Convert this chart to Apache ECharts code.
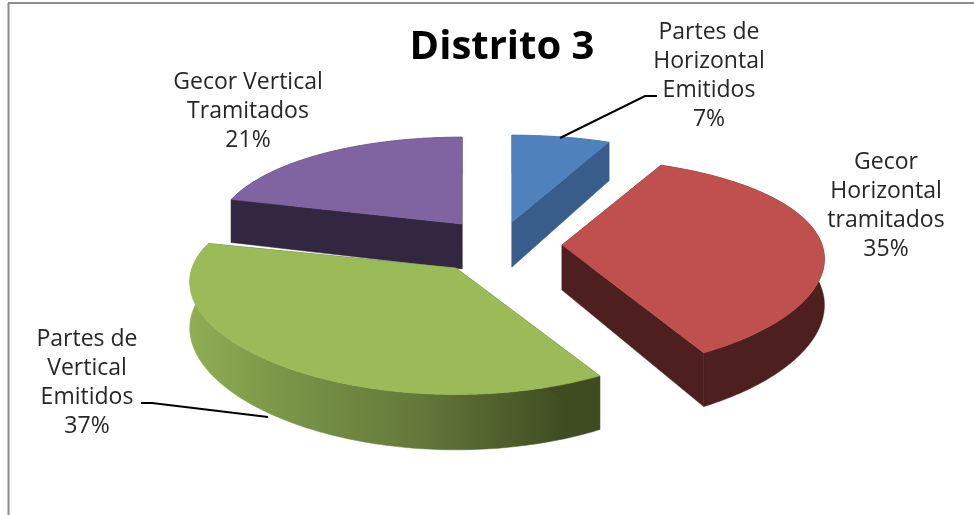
<!DOCTYPE html>
<html>
<head>
<meta charset="utf-8">
<style>
  html, body { margin: 0; padding: 0; background: #fff; }
  #chart { width: 974px; height: 515px; }
</style>
<script src="https://cdn.jsdelivr.net/npm/echarts@6/dist/echarts.min.js"></script>
</head>
<body>
<div id="chart"></div>
<script>
const chartTitle = 'Distrito 3';
const categories = ['Partes de\nHorizontal\nEmitidos', 'Gecor\nHorizontal\ntramitados', 'Partes de\nVertical\nEmitidos', 'Gecor Vertical\nTramitados'];
const percents = [7, 35, 37, 21];

const FONT = '"Open Sans"';
// look of the tilted pie
const polarRadius = 100;
const base = [488, 245];
const rx = 255, ry = 103, perspX = 0.132, perspY = 0.186, depth = 45;
const explode = [[24, -23], [74, 0], [-32, 23], [-26, -21]];
const widen = [1, 1.02, 1.035, 0.965];
const topColors = ['#4f81bd', '#c0504d', '#9bbb59', '#8064a2'];
const wallColors = ['#385d8a', '#4d1f1e', '#3f4b21', '#332641'];
const labelAt = [[709, 18], [886, 148], [87, 325], [248, 68]];
const leaders = [
  [[560, 138], [645, 96], [657, 96]],
  null,
  [[268, 417], [152, 403], [141, 403]],
  null
];

const starts = [];
percents.reduce(function (sum, v, i) { starts[i] = sum; return sum + v; }, 0);

function renderSlice(params, api) {
  const i = params.dataIndex;
  const from = api.value(1);
  const to = from + api.value(2);
  const origin = api.coord([0, 0]);
  const off = explode[i];

  // angle comes from the polar scale, then it gets the tilt + perspective
  function project(pct, r, down) {
    const p = api.coord([r, pct]);
    const nx = (p[0] - origin[0]) / polarRadius;
    const ny = (p[1] - origin[1]) / polarRadius;
    return [
      base[0] + off[0] + widen[i] * rx * nx / (1 - perspX * ny),
      base[1] + off[1] + (ry * ny + down) / (1 - perspY * ny)
    ];
  }
  function arc(a, b, down) {
    const out = [];
    const steps = Math.ceil(Math.abs(b - a) * 4);
    for (let k = 0; k <= steps; k++) {
      out.push(project(a + (b - a) * k / steps, 1, down));
    }
    return out;
  }
  function quad(pct) {
    return [project(pct, 0, 0), project(pct, 1, 0), project(pct, 1, depth), project(pct, 0, depth)];
  }
  function poly(points, fill, z2) {
    return { type: 'polygon', shape: { points: points }, style: { fill: fill, stroke: fill, lineWidth: 0.5 }, z2: z2 };
  }

  const mid = (from + to) / 2 / 100 * Math.PI * 2;
  const order = 20 - Math.round(Math.cos(mid) * 10);
  const topArc = arc(from, to, 0);
  let wallFill = wallColors[i];
  if (i === 2) {
    wallFill = new echarts.graphic.LinearGradient(0, 0, 1, 0, [
      { offset: 0, color: '#8fae53' },
      { offset: 0.22, color: '#7b9648' },
      { offset: 0.55, color: '#64793b' },
      { offset: 0.92, color: '#3f4b21' },
      { offset: 1, color: '#3f4b21' }
    ]);
  }
  const children = [
    poly(topArc.concat(arc(to, from, depth)), wallFill, order),
    poly(quad(from), wallColors[i], order),
    poly(quad(to), wallColors[i], order),
    poly([project(from, 0, 0)].concat(topArc), topColors[i], order + 1)
  ];
  if (leaders[i]) {
    children.push({
      type: 'polyline',
      shape: { points: leaders[i] },
      style: { stroke: '#000', lineWidth: 2, fill: null },
      z2: 90
    });
  }
  children.push({
    type: 'text',
    x: labelAt[i][0],
    y: labelAt[i][1],
    style: {
      text: categories[i] + '\n' + api.value(2) + '%',
      fill: '#262626',
      font: '23px ' + FONT,
      lineHeight: 29,
      align: 'center',
      verticalAlign: 'top'
    },
    z2: 100
  });
  return { type: 'group', children: children };
}

const chart = echarts.init(document.getElementById('chart'), null, { renderer: 'canvas' });
chart.setOption({
  animation: false,
  backgroundColor: '#fff',
  title: {
    text: chartTitle,
    left: 497,
    top: 23,
    textAlign: 'center',
    textStyle: { fontFamily: FONT, fontWeight: 'bold', fontSize: 40, color: '#000' }
  },
  polar: { center: [200, 200], radius: polarRadius },
  angleAxis: { type: 'value', min: 0, max: 100, startAngle: 90, clockwise: true, show: false },
  radiusAxis: { type: 'value', min: 0, max: 1, show: false },
  graphic: [
    { type: 'line', shape: { x1: 8.5, y1: 3, x2: 8.5, y2: 515 }, style: { stroke: '#8c8c8c', lineWidth: 2 } },
    { type: 'line', shape: { x1: 8, y1: 3, x2: 974, y2: 3 }, style: { stroke: '#8c8c8c', lineWidth: 2 } }
  ],
  series: [{
    type: 'custom',
    coordinateSystem: 'polar',
    silent: true,
    encode: { radius: 0, angle: 1 },
    data: percents.map(function (v, i) { return [1, starts[i], v]; }),
    renderItem: renderSlice
  }]
});
</script>
</body>
</html>
